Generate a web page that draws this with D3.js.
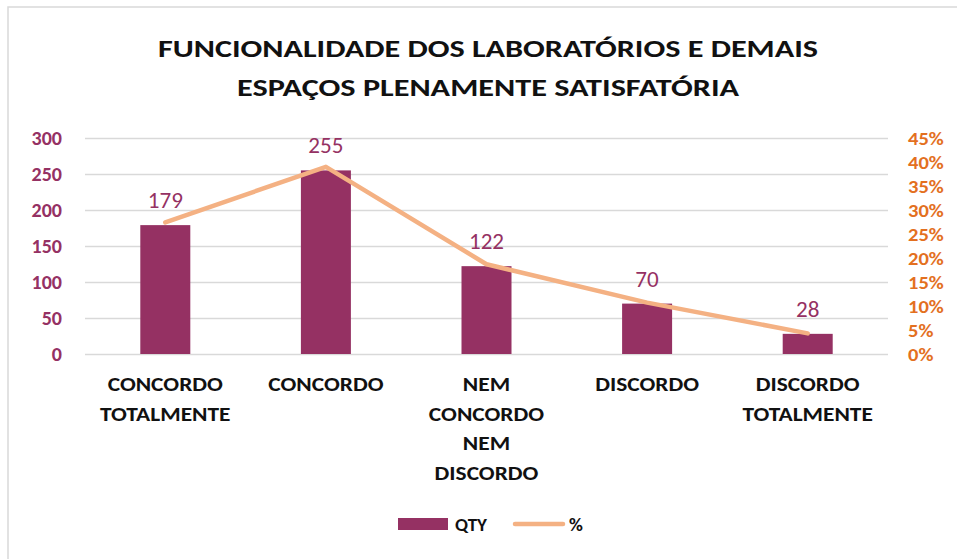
<!DOCTYPE html>
<html>
<head>
<meta charset="utf-8">
<script src="https://cdn.jsdelivr.net/npm/d3@7"></script>
<style>
  body { margin: 0; background: #fff; }
  svg { display: block; font-family: Carlito, Lato, "Open Sans", sans-serif; }
</style>
</head>
<body>
<svg id="chart" width="957" height="559"></svg>
<script>
var categories = [["CONCORDO", "TOTALMENTE"], ["CONCORDO"], ["NEM", "CONCORDO", "NEM", "DISCORDO"], ["DISCORDO"], ["DISCORDO", "TOTALMENTE"]];
var qty = [179, 255, 122, 70, 28];
var pct = [27.4, 39.0, 18.7, 10.7, 4.3];
var leftTicks = [0, 50, 100, 150, 200, 250, 300];
var rightTicks = [0, 5, 10, 15, 20, 25, 30, 35, 40, 45];
var titleLines = ["FUNCIONALIDADE DOS LABORATÓRIOS E DEMAIS", "ESPAÇOS PLENAMENTE SATISFATÓRIA"];

var barColor = "#953163", lineColor = "#F4B183";
var margin = {left: 85, right: 69, top: 138, bottom: 205};
var width = 957 - margin.left - margin.right,
    height = 559 - margin.top - margin.bottom;

// widen glyphs a bit (the original font is rendered wider than Lato)
function stretch(sel, k) {
    sel.each(function() {
        var w = this.getComputedTextLength();
        d3.select(this).attr("textLength", w * k).attr("lengthAdjust", "spacingAndGlyphs");
    });
}

var svg = d3.select("#chart");

// outer frame (only left/top edges visible)
svg.append("rect")
    .attr("x", 8).attr("y", 7)
    .attr("width", 1000).attr("height", 1000)
    .attr("fill", "none")
    .attr("stroke", "#d9d9d9")
    .attr("stroke-width", 1.5);

svg.append("g").selectAll("text")
    .data(titleLines)
    .enter()
    .append("text")
        .attr("x", 488)
        .attr("y", (d, i) => 57 + i * 39)
        .attr("text-anchor", "middle")
        .attr("font-size", 24)
        .attr("font-weight", "bold")
        .attr("fill", "#111")
        .attr("textLength", (d, i) => i ? 502 : 660)
        .attr("lengthAdjust", "spacingAndGlyphs")
        .text(d => d);

var g = svg.append("g")
    .attr("transform", "translate(" + margin.left + "," + margin.top + ")");

var xs = d3.scaleBand().domain(d3.range(qty.length)).range([0, width]);
var ys = d3.scaleLinear().domain([0, 300]).range([height, 0]);
var ys2 = d3.scaleLinear().domain([0, 45]).range([height, 0]);

// gridlines
g.append("g")
    .call(d3.axisLeft(ys).tickValues(leftTicks).tickSize(-width).tickFormat(""))
    .call(a => a.select(".domain").remove())
    .call(a => a.selectAll("line").attr("stroke", "#d9d9d9").attr("stroke-width", 1.3));

// left axis labels
g.append("g")
    .call(d3.axisLeft(ys).tickValues(leftTicks).tickSize(0).tickPadding(23))
    .call(a => a.select(".domain").remove())
    .call(a => a.selectAll("text")
        .attr("font-family", "Carlito, Lato, sans-serif")
        .attr("font-size", 20).attr("font-weight", "bold").attr("fill", "#953163"))
    .call(a => stretch(a.selectAll("text"), 1.0));

// right axis labels
g.append("g")
    .attr("transform", "translate(" + width + ",0)")
    .call(d3.axisRight(ys2).tickValues(rightTicks).tickSize(0).tickPadding(20).tickFormat(d => d + "%"))
    .call(a => a.select(".domain").remove())
    .call(a => a.selectAll("text")
        .attr("font-family", "Carlito, Lato, sans-serif")
        .attr("font-size", 19).attr("font-weight", "bold").attr("fill", "#E3701F"))
    .call(a => stretch(a.selectAll("text"), 1.08));

var bw = 50;
g.selectAll("rect.bar")
    .data(qty)
    .enter()
    .append("rect")
        .attr("class", "bar")
        .attr("x", (d, i) => xs(i) + xs.bandwidth() / 2 - bw / 2)
        .attr("y", d => ys(d))
        .attr("width", bw)
        .attr("height", d => height - ys(d))
        .attr("fill", barColor);

var line = d3.line()
    .x((d, i) => xs(i) + xs.bandwidth() / 2)
    .y(d => ys2(d));

g.append("path")
    .datum(pct)
    .attr("d", line)
    .attr("fill", "none")
    .attr("stroke", lineColor)
    .attr("stroke-width", 4.5)
    .attr("stroke-linecap", "round")
    .attr("stroke-linejoin", "round");

g.selectAll("text.val")
    .data(qty)
    .enter()
    .append("text")
        .attr("class", "val")
        .attr("x", (d, i) => xs(i) + xs.bandwidth() / 2)
        .attr("y", d => ys(d) - 17)
        .attr("text-anchor", "middle")
        .attr("font-size", 22)
        .attr("fill", "#953163")
        .text(d => d)
        .call(s => stretch(s, 1.05));

// category labels
var cat = g.selectAll("text.cat")
    .data(categories)
    .enter()
    .append("text")
        .attr("class", "cat")
        .attr("x", (d, i) => xs(i) + xs.bandwidth() / 2)
        .attr("y", height + 37)
        .attr("text-anchor", "middle")
        .attr("font-size", 20)
        .attr("font-weight", "bold")
        .attr("fill", "#111");
cat.each(function(d, i) {
    var cx = xs(i) + xs.bandwidth() / 2;
    d3.select(this).selectAll("tspan")
        .data(d)
        .enter()
        .append("tspan")
            .attr("x", cx)
            .attr("dy", (t, j) => j ? 29.5 : 0)
            .text(t => t)
            .call(s => stretch(s, 1.17));
});

// legend
var lg = svg.append("g");
lg.append("rect").attr("x", 398).attr("y", 518).attr("width", 50).attr("height", 12).attr("fill", barColor);
lg.append("text").attr("x", 455).attr("y", 531).attr("font-size", 19).attr("font-weight", "bold").attr("fill", "#111").text("QTY");
lg.append("line").attr("x1", 515).attr("x2", 563).attr("y1", 524).attr("y2", 524)
    .attr("stroke", lineColor).attr("stroke-width", 4.5).attr("stroke-linecap", "round");
lg.append("text").attr("x", 569).attr("y", 531).attr("font-size", 19).attr("font-weight", "bold").attr("fill", "#111").text("%");
</script>
</body>
</html>
